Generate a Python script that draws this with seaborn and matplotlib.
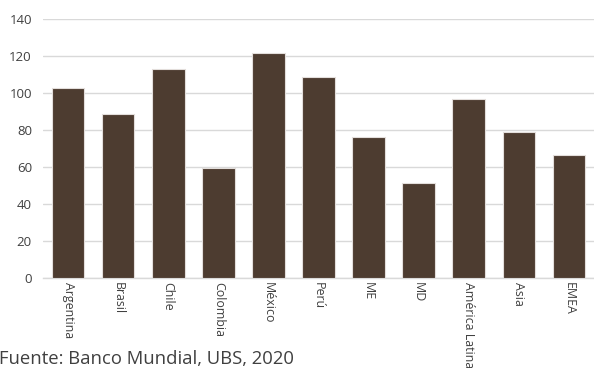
import matplotlib
matplotlib.use("Agg")
import matplotlib.pyplot as plt
import seaborn as sns
import pandas as pd

# Data
paises = ["Argentina", "Brasil", "Chile", "Colombia", "México", "Perú",
          "ME", "MD", "América Latina", "Asia", "EMEA"]
valores = [102.5, 88.5, 112.5, 59.5, 121.5, 108.5, 76, 51, 96.5, 78.5, 66.5]
y_ticks = [0, 20, 40, 60, 80, 100, 120, 140]
fuente = "Fuente: Banco Mundial, UBS, 2020"

df = pd.DataFrame({"pais": paises, "valor": valores})

sns.set_theme(style="white")
plt.rcParams["font.family"] = ["Open Sans", "DejaVu Sans"]

fig = plt.figure(figsize=(5.94, 3.68), dpi=100)
ax = fig.add_axes([43 / 594, 1 - 278 / 368, 1 - 43 / 594, (278 - 18.5) / 368])

sns.barplot(data=df, x="pais", y="valor", color="#4d3c30", saturation=1,
            width=0.65, edgecolor="#e3dedb", linewidth=0.8, ax=ax, zorder=3)

ax.set_ylim(0, 140)
ax.set_xlim(-0.5, len(paises) - 0.5)
ax.set_yticks(y_ticks)
ax.set_yticklabels([str(t) for t in y_ticks])
ax.yaxis.grid(True, color="#d9d9d9", linewidth=1.0, zorder=0)
ax.set_axisbelow(True)

for s in ["top", "right", "left"]:
    ax.spines[s].set_visible(False)
ax.spines["bottom"].set_color("#d9d9d9")
ax.spines["bottom"].set_linewidth(1.0)

ax.set_xlabel("")
ax.set_ylabel("")
ax.tick_params(axis="y", length=0, pad=8, labelsize=9.5, labelcolor="#404040")
ax.tick_params(axis="x", length=0, pad=3, labelsize=8.9, labelcolor="#404040")
plt.setp(ax.get_xticklabels(), rotation=-90, va="top", ha="center")

fig.text(-0.002, 0.012, fuente, fontsize=13.3, color="#404040",
         ha="left", va="baseline")

fig.savefig("out.png", dpi=100)
